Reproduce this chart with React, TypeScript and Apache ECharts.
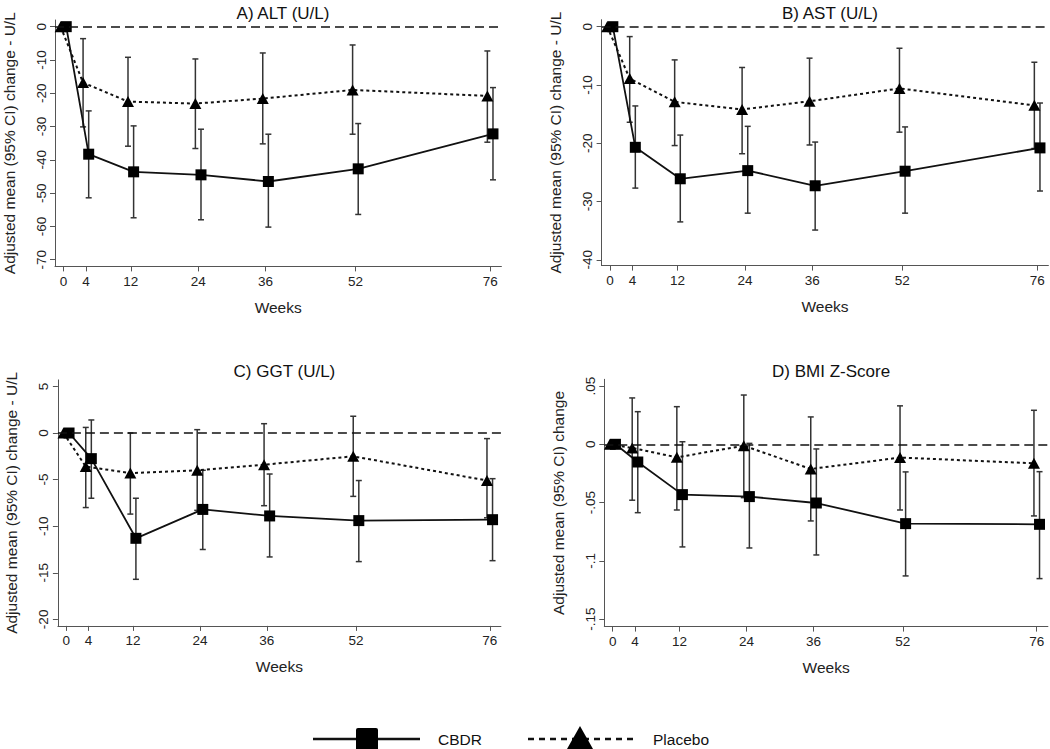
import React, { useEffect, useRef } from "react";
import * as echarts from "echarts";

const weeks = [0, 4, 12, 24, 36, 52, 76];
const xTickLabels = ["0", "4", "12", "24", "36", "52", "76"];

// A) ALT
const altCbdr = [0, -38.3, -43.6, -44.5, -46.5, -42.7, -32.2];
const altCbdrLo = [null, -51.4, -57.4, -58.0, -60.2, -56.4, -46.0];
const altCbdrHi = [null, -25.3, -29.8, -30.8, -32.3, -29.1, -18.3];
const altPlac = [0, -16.8, -22.5, -23.1, -21.6, -19.0, -20.8];
const altPlacLo = [null, -30.1, -35.9, -36.6, -35.2, -32.3, -34.7];
const altPlacHi = [null, -3.6, -9.2, -9.7, -7.9, -5.5, -7.3];

// B) AST
const astCbdr = [0, -20.7, -26.1, -24.7, -27.3, -24.8, -20.8];
const astCbdrLo = [null, -27.7, -33.5, -32.0, -34.9, -32.0, -28.2];
const astCbdrHi = [null, -13.6, -18.6, -17.1, -19.8, -17.2, -13.1];
const astPlac = [0, -8.9, -12.9, -14.2, -12.8, -10.6, -13.5];
const astPlacLo = [null, -16.4, -20.4, -21.8, -20.3, -18.1, -20.9];
const astPlacHi = [null, -1.7, -5.7, -7.0, -5.4, -3.7, -6.1];

// C) GGT
const ggtCbdr = [0, -2.75, -11.3, -8.2, -8.9, -9.4, -9.3];
const ggtCbdrLo = [null, -7.0, -15.7, -12.5, -13.3, -13.8, -13.7];
const ggtCbdrHi = [null, 1.4, -7.0, -4.0, -4.4, -5.1, -4.9];
const ggtPlac = [0, -3.6, -4.3, -4.0, -3.4, -2.5, -5.1];
const ggtPlacLo = [null, -8.0, -8.7, -8.3, -7.8, -6.8, -9.1];
const ggtPlacHi = [null, 0.6, 0.0, 0.36, 1.0, 1.8, -0.6];

// D) BMI Z-Score
const bmiCbdr = [0, -0.0152, -0.0432, -0.0449, -0.0504, -0.0681, -0.0687];
const bmiCbdrLo = [null, -0.0587, -0.0881, -0.089, -0.095, -0.113, -0.1153];
const bmiCbdrHi = [null, 0.028, 0.0022, 0.0008, -0.004, -0.0237, -0.0235];
const bmiPlac = [0, -0.0031, -0.0112, -0.0012, -0.0212, -0.0114, -0.0163];
const bmiPlacLo = [null, -0.048, -0.0564, -0.0458, -0.0658, -0.0564, -0.0615];
const bmiPlacHi = [null, 0.0398, 0.0323, 0.0423, 0.0235, 0.033, 0.0292];

const altTicks = [0, -10, -20, -30, -40, -50, -60, -70];
const altTickLabels = ["0", "-10", "-20", "-30", "-40", "-50", "-60", "-70"];
const astTicks = [0, -10, -20, -30, -40];
const astTickLabels = ["0", "-10", "-20", "-30", "-40"];
const ggtTicks = [5, 0, -5, -10, -15, -20];
const ggtTickLabels = ["5", "0", "-5", "-10", "-15", "-20"];
const bmiTicks = [0.05, 0, -0.05, -0.1, -0.15];
const bmiTickLabels = [".05", "0", "-.05", "-.1", "-.15"];

const FONT = "Liberation Sans, Arial, sans-serif";
const CBDR_OFF = 0.5;
const PLAC_OFF = -0.5;

type Panel = {
  title: string;
  yTitle: string;
  grid: { left: number; top: number; width: number; height: number };
  titleTop: number;
  yMin: number;
  yMax: number;
  ticks: number[];
  tickLabels: string[];
  cbdr: number[];
  cbdrLo: (number | null)[];
  cbdrHi: (number | null)[];
  plac: number[];
  placLo: (number | null)[];
  placHi: (number | null)[];
};

const panels: Panel[] = [
  {
    title: "A) ALT (U/L)", yTitle: "Adjusted mean (95% CI) change - U/L",
    grid: { left: 54.6, top: 20, width: 446.8, height: 246.4 }, titleTop: 0,
    yMin: -72, yMax: 2, ticks: altTicks, tickLabels: altTickLabels,
    cbdr: altCbdr, cbdrLo: altCbdrLo, cbdrHi: altCbdrHi,
    plac: altPlac, placLo: altPlacLo, placHi: altPlacHi,
  },
  {
    title: "B) AST (U/L)", yTitle: "Adjusted mean (95% CI) change - U/L",
    grid: { left: 601.6, top: 19.7, width: 446.8, height: 245.9 }, titleTop: 0,
    yMin: -41, yMax: 1.2, ticks: astTicks, tickLabels: astTickLabels,
    cbdr: astCbdr, cbdrLo: astCbdrLo, cbdrHi: astCbdrHi,
    plac: astPlac, placLo: astPlacLo, placHi: astPlacHi,
  },
  {
    title: "C) GGT (U/L)", yTitle: "Adjusted mean (95% CI) change - U/L",
    grid: { left: 57.9, top: 379.9, width: 443, height: 246 }, titleTop: 358,
    yMin: -20.7, yMax: 5.7, ticks: ggtTicks, tickLabels: ggtTickLabels,
    cbdr: ggtCbdr, cbdrLo: ggtCbdrLo, cbdrHi: ggtCbdrHi,
    plac: ggtPlac, placLo: ggtPlacLo, placHi: ggtPlacHi,
  },
  {
    title: "D) BMI Z-Score", yTitle: "Adjusted mean (95% CI) change",
    grid: { left: 604.3, top: 379.3, width: 443.6, height: 247.3 }, titleTop: 358,
    yMin: -0.1565, yMax: 0.0558, ticks: bmiTicks, tickLabels: bmiTickLabels,
    cbdr: bmiCbdr, cbdrLo: bmiCbdrLo, cbdrHi: bmiCbdrHi,
    plac: bmiPlac, placLo: bmiPlacLo, placHi: bmiPlacHi,
  },
];

function errorBarRender(params: any, api: any) {
  const x = api.value(0);
  const lo = api.value(1);
  const hi = api.value(2);
  const pLo = api.coord([x, lo]);
  const pHi = api.coord([x, hi]);
  const cap = 3;
  const style = { stroke: "#333", lineWidth: 1.5 };
  return {
    type: "group",
    children: [
      { type: "line", shape: { x1: pLo[0], y1: pLo[1], x2: pHi[0], y2: pHi[1] }, style },
      { type: "line", shape: { x1: pLo[0] - cap, y1: pLo[1], x2: pLo[0] + cap, y2: pLo[1] }, style },
      { type: "line", shape: { x1: pHi[0] - cap, y1: pHi[1], x2: pHi[0] + cap, y2: pHi[1] }, style },
    ],
  };
}

function buildOption() {
  const grid: any[] = [];
  const xAxis: any[] = [];
  const yAxis: any[] = [];
  const series: any[] = [];
  const title: any[] = [];

  panels.forEach((p, i) => {
    grid.push({ ...p.grid });
    title.push({
      text: p.title,
      left: p.grid.left + p.grid.width / 2,
      top: p.titleTop,
      textAlign: "center",
      textStyle: { fontFamily: FONT, fontSize: 17, fontWeight: "normal", color: "#111" },
    });
    xAxis.push({
      type: "value",
      gridIndex: i,
      min: -1.5,
      max: 78,
      name: "Weeks",
      nameLocation: "middle",
      nameGap: 33,
      nameTextStyle: { fontFamily: FONT, fontSize: 15.5, color: "#222" },
      splitLine: { show: false },
      axisLine: { show: true, onZero: false, lineStyle: { color: "#555", width: 1 } },
      axisTick: { show: true, length: 5, customValues: weeks, lineStyle: { color: "#555" } },
      axisLabel: {
        customValues: weeks,
        margin: 8,
        fontFamily: FONT,
        fontSize: 13.5,
        color: "#222",
        formatter: (v: number) => {
          const idx = weeks.indexOf(v);
          return idx >= 0 ? xTickLabels[idx] : "";
        },
      },
    });
    yAxis.push({
      type: "value",
      gridIndex: i,
      min: p.yMin,
      max: p.yMax,
      name: p.yTitle,
      nameLocation: "middle",
      nameRotate: 90,
      nameGap: 38,
      nameTextStyle: { fontFamily: FONT, fontSize: 15.5, color: "#222" },
      splitLine: { show: false },
      axisLine: { show: true, onZero: false, lineStyle: { color: "#555", width: 1 } },
      axisTick: { show: true, length: 5, customValues: p.ticks, lineStyle: { color: "#555" } },
      axisLabel: {
        customValues: p.ticks,
        rotate: 90,
        margin: 7,
        fontFamily: FONT,
        fontSize: 13.5,
        color: "#222",
        formatter: (v: number) => {
          let idx = -1;
          p.ticks.forEach((t, k) => {
            if (Math.abs(t - v) < 1e-9) idx = k;
          });
          return idx >= 0 ? p.tickLabels[idx] : "";
        },
      },
    });

    const cbdrBars: any[] = [];
    const placBars: any[] = [];
    weeks.forEach((w, k) => {
      if (p.cbdrLo[k] !== null) cbdrBars.push([w + CBDR_OFF, p.cbdrLo[k], p.cbdrHi[k]]);
      if (p.placLo[k] !== null) placBars.push([w + PLAC_OFF, p.placLo[k], p.placHi[k]]);
    });

    series.push({
      type: "custom",
      xAxisIndex: i,
      yAxisIndex: i,
      renderItem: errorBarRender,
      encode: { x: 0, y: [1, 2] },
      data: placBars,
      z: 2,
      silent: true,
    });
    series.push({
      type: "custom",
      xAxisIndex: i,
      yAxisIndex: i,
      renderItem: errorBarRender,
      encode: { x: 0, y: [1, 2] },
      data: cbdrBars,
      z: 2,
      silent: true,
    });
    series.push({
      name: "Placebo",
      type: "line",
      xAxisIndex: i,
      yAxisIndex: i,
      data: weeks.map((w, k) => [w + PLAC_OFF, p.plac[k]]),
      symbol: "triangle",
      symbolSize: [12, 11],
      itemStyle: { color: "#000" },
      lineStyle: { color: "#111", width: 2, type: [3, 3] },
      z: 3,
      silent: true,
      markLine: {
        silent: true,
        symbol: "none",
        label: { show: false },
        lineStyle: { color: "#111", width: 1.5, type: [9, 5] },
        data: [{ yAxis: 0 }],
      },
    });
    series.push({
      name: "CBDR",
      type: "line",
      xAxisIndex: i,
      yAxisIndex: i,
      data: weeks.map((w, k) => [w + CBDR_OFF, p.cbdr[k]]),
      symbol: "rect",
      symbolSize: 11,
      itemStyle: { color: "#000" },
      lineStyle: { color: "#111", width: 1.8, type: "solid" },
      z: 4,
      silent: true,
    });
  });

  const legendY = 739;
  const graphic: any[] = [
    { type: "line", shape: { x1: 313, y1: legendY, x2: 420, y2: legendY }, style: { stroke: "#111", lineWidth: 2.5 } },
    { type: "rect", shape: { x: 356, y: legendY - 11, width: 22, height: 23, r: 2 }, style: { fill: "#000" } },
    { type: "text", style: { text: "CBDR", x: 438, y: legendY, fontFamily: FONT, fontSize: 15.5, fill: "#111", textVerticalAlign: "middle" } },
    { type: "line", shape: { x1: 528, y1: legendY, x2: 633, y2: legendY }, style: { stroke: "#111", lineWidth: 2.5, lineDash: [6, 5] } },
    { type: "polygon", shape: { points: [[580, legendY - 13], [567, legendY + 10], [593, legendY + 10]] }, style: { fill: "#000" } },
    { type: "text", style: { text: "Placebo", x: 653, y: legendY, fontFamily: FONT, fontSize: 15.5, fill: "#111", textVerticalAlign: "middle" } },
  ];

  return {
    animation: false,
    backgroundColor: "#fff",
    title,
    grid,
    xAxis,
    yAxis,
    series,
    graphic,
  };
}

export default function App() {
  const ref = useRef<HTMLDivElement>(null);
  useEffect(() => {
    if (!ref.current) return;
    const chart = echarts.init(ref.current, null, { renderer: "svg" });
    chart.setOption(buildOption() as any);
    return () => chart.dispose();
  }, []);
  return (
    <div
      ref={ref}
      style={{ position: "fixed", left: 0, top: 0, width: 1050, height: 749, background: "#fff" }}
    />
  );
}
